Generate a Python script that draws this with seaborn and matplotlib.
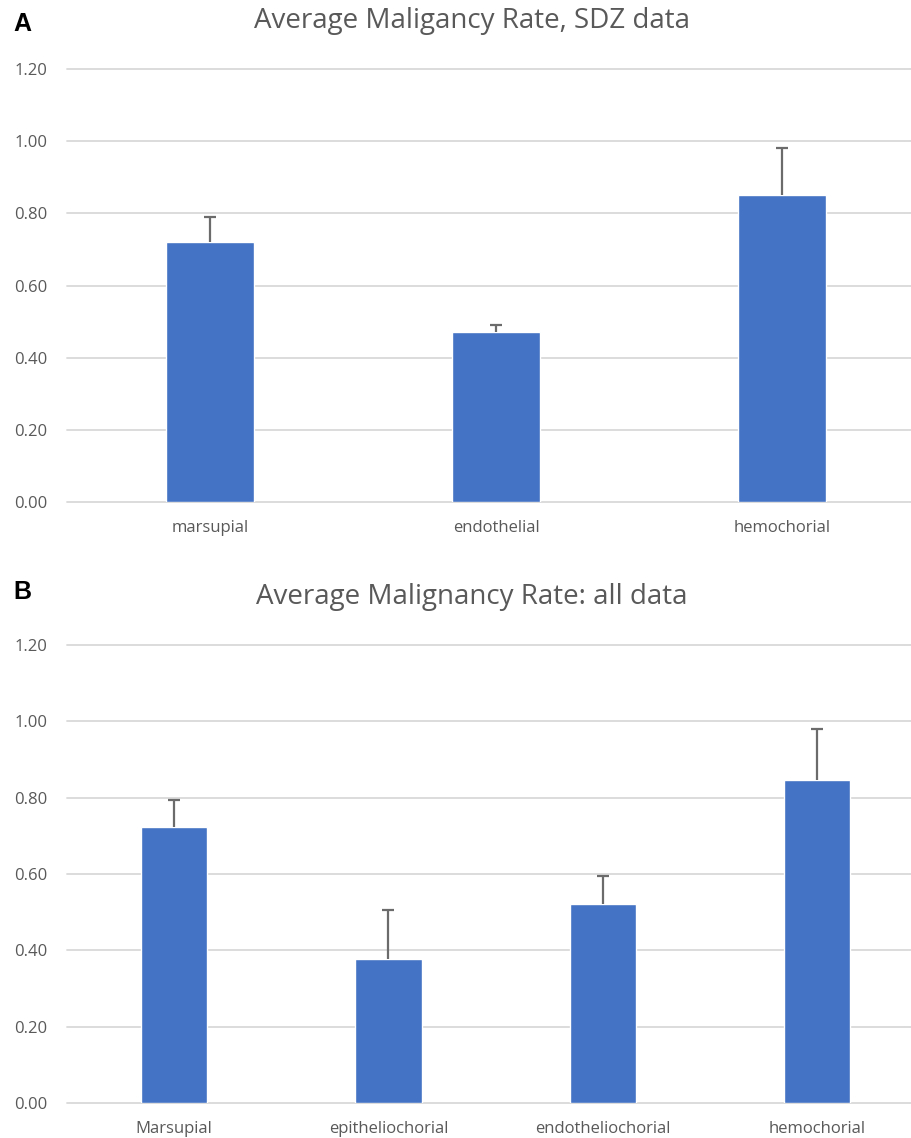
import numpy as np
import pandas as pd
import matplotlib
matplotlib.use("Agg")
import matplotlib.pyplot as plt
import seaborn as sns

# panel A: SDZ data
cats_a = ["marsupial", "endothelial", "hemochorial"]
means_a = [0.72, 0.47, 0.85]
upper_a = [0.79, 0.49, 0.98]

# panel B: all data
cats_b = ["Marsupial", "epitheliochorial", "endotheliochorial", "hemochorial"]
means_b = [0.723, 0.377, 0.521, 0.846]
upper_b = [0.794, 0.506, 0.595, 0.98]

yticks = [0.0, 0.2, 0.4, 0.6, 0.8, 1.0, 1.2]

BAR = "#4472C4"
GRID = "#D9D9D9"
TXT = "#595959"

sns.set_theme(style="white")
plt.rcParams["font.family"] = ["Open Sans", "DejaVu Sans"]

fig = plt.figure(figsize=(9.12, 11.38), dpi=100)
W, H = 912, 1138


def make_axes(left, top, right, bottom):
    return fig.add_axes([left / W, 1 - bottom / H, (right - left) / W, (bottom - top) / H])


def draw_panel(ax, cats, means, upper, title, letter, xmax, title_y, letter_y):
    df = pd.DataFrame({"cat": cats, "val": means})
    sns.barplot(data=df, x="cat", y="val", color=BAR, width=0.31,
                saturation=1, errorbar=None, ax=ax, zorder=3)
    err = np.array(upper) - np.array(means)
    eb = ax.errorbar(np.arange(len(cats)), means, yerr=[np.zeros_like(err), err],
                     fmt="none", ecolor="#6b6b6b", elinewidth=1.6, capsize=4,
                     capthick=1.6, zorder=4)
    # only the upper cap is shown
    eb[1][0].set_visible(False)
    ax.set_xlim(-0.5, xmax)
    ax.set_ylim(0, 1.2)
    ax.set_yticks(yticks)
    ax.set_yticklabels([f"{t:.2f}" for t in yticks])
    for t in yticks:
        ax.axhline(t, color=GRID, lw=1.3, zorder=1, clip_on=False)
    for s in ax.spines.values():
        s.set_visible(False)
    ax.tick_params(axis="both", length=0, colors=TXT, labelsize=12)
    ax.tick_params(axis="y", pad=14)
    ax.tick_params(axis="x", pad=13)
    ax.set_xlabel("")
    ax.set_ylabel("")
    fig.text(472 / W, 1 - title_y / H, title, ha="center", va="center",
             fontsize=20, color=TXT)
    fig.text(13 / W, 1 - letter_y / H, letter, ha="left", va="center",
             fontsize=18, fontweight="bold", color="black",
             family="Liberation Sans")


ax_a = make_axes(67, 69, 912, 502)
draw_panel(ax_a, cats_a, means_a, upper_a, "Average Maligancy Rate, SDZ data",
           "A", -0.5 + 845 / 286, 21, 24)

ax_b = make_axes(67, 645, 912, 1103)
draw_panel(ax_b, cats_b, means_b, upper_b, "Average Malignancy Rate: all data",
           "B", -0.5 + 845 / 214.3, 597, 592)

fig.savefig("out.png", dpi=100)
